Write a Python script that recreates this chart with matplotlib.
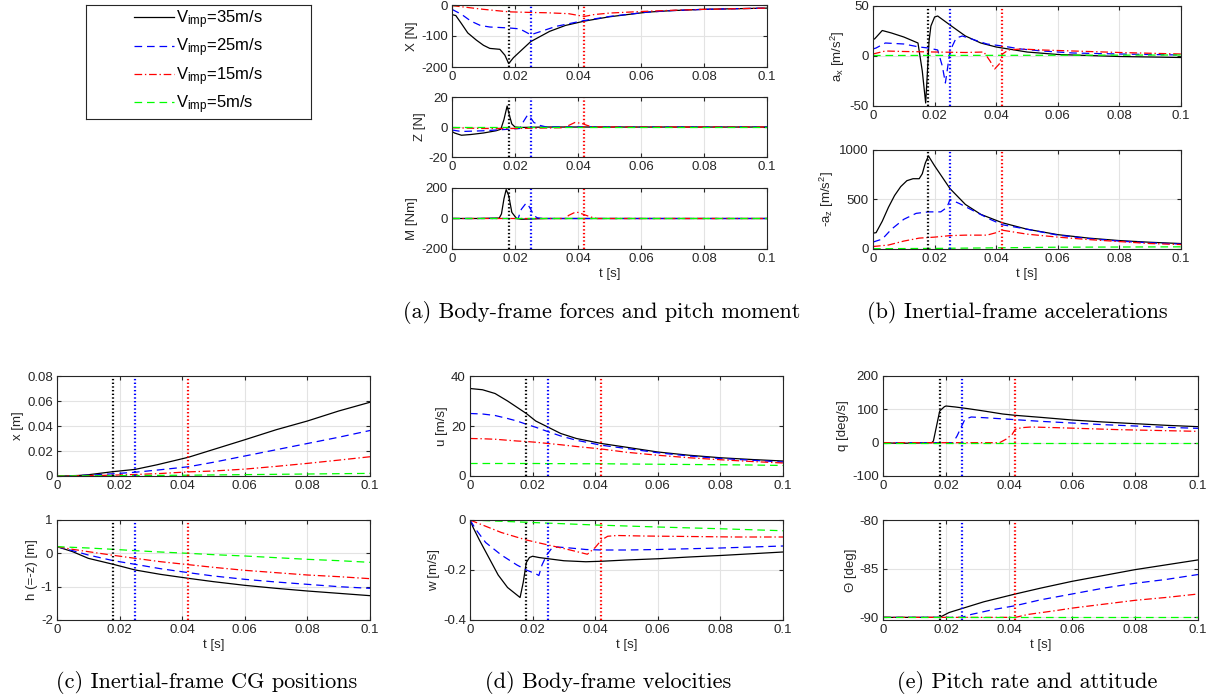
import matplotlib
matplotlib.use('Agg')
import matplotlib.pyplot as plt

plt.rcParams['font.family'] = ['Liberation Sans', 'DejaVu Sans']
plt.rcParams['axes.unicode_minus'] = False
plt.rcParams['mathtext.fontset'] = 'custom'
plt.rcParams['mathtext.rm'] = 'Liberation Sans'
plt.rcParams['mathtext.it'] = 'Liberation Sans:italic'
plt.rcParams['lines.scale_dashes'] = False

W, H = 1210, 700

# impact speeds and touchdown instants
speeds = ['35', '25', '15', '5']
impact_t = [0.018, 0.025, 0.042]

# ---- (a) body-frame forces and pitch moment ----
X_t35 = [0, 0.0012, 0.003, 0.005, 0.0077, 0.010, 0.012, 0.0152, 0.0168, 0.018, 0.0195, 0.0215, 0.025,
         0.031, 0.036, 0.042, 0.05, 0.062, 0.07, 0.08, 0.09, 0.1]
X_35 = [-31, -34, -60, -90, -113, -130, -140, -143, -162, -189, -170, -151, -118,
        -85, -66, -52, -38, -23, -18, -14, -12, -10]
X_t25 = [0, 0.003, 0.006, 0.009, 0.012, 0.018, 0.0215, 0.023, 0.025, 0.028, 0.033, 0.042, 0.05,
         0.062, 0.07, 0.08, 0.09, 0.1]
X_25 = [-14, -30, -52, -66, -71, -74, -77, -85, -96, -86, -69, -50, -37, -23, -18, -14, -12, -10]
X_t15 = [0, 0.005, 0.01, 0.018, 0.025, 0.03, 0.037, 0.042, 0.045, 0.05, 0.06, 0.07, 0.08, 0.09, 0.1]
X_15 = [-2, -8, -14, -22, -24, -25, -28, -37, -31, -26, -21, -17, -14, -12, -10]
X_t5 = [0, 0.05, 0.1]
X_5 = [-1.5, -1, -1]

Z_t35 = [0, 0.0008, 0.003, 0.006, 0.01, 0.014, 0.0155, 0.0165, 0.0175, 0.0182, 0.019, 0.02, 0.022, 0.03, 0.1]
Z_35 = [-3, -4, -5.5, -5, -4, -2.5, -1.5, 5, 14, 8, 2, 0, -0.3, 0, 0]
Z_t25 = [0, 0.003, 0.01, 0.018, 0.0215, 0.0225, 0.024, 0.025, 0.026, 0.028, 0.03, 0.1]
Z_25 = [-2, -3, -2.5, -1.5, -1, 3, 8, 6, 3, 1, 0, 0]
Z_t15 = [0, 0.01, 0.02, 0.035, 0.037, 0.039, 0.041, 0.043, 0.045, 0.1]
Z_15 = [-0.5, -1, -1, -0.5, 1, 3, 2.5, 1, 0, 0]
Z_t5 = [0, 0.05, 0.1]
Z_5 = [0, 0, 0]

M_t35 = [0, 0.008, 0.012, 0.015, 0.0157, 0.0165, 0.0172, 0.018, 0.019, 0.0205, 0.022, 0.03, 0.1]
M_35 = [0, 0, 2, 3, 30, 130, 190, 150, 40, 0, -5, 0, 0]
M_t25 = [0, 0.021, 0.022, 0.0235, 0.024, 0.025, 0.026, 0.027, 0.029, 0.1]
M_25 = [0, 0, 60, 100, 95, 60, 20, 5, 0, 0]
M_t15 = [0, 0.036, 0.037, 0.039, 0.040, 0.042, 0.044, 0.046, 0.1]
M_15 = [0, 0, 20, 40, 40, 25, 10, 0, 0]
M_t5 = [0, 0.05, 0.1]
M_5 = [0, 0, 0]

# ---- (b) inertial-frame accelerations ----
ax_t35 = [0, 0.0005, 0.003, 0.006, 0.01, 0.0146, 0.016, 0.0171, 0.0176, 0.0182, 0.0188, 0.02, 0.021,
          0.025, 0.03, 0.035, 0.04, 0.05, 0.06, 0.07, 0.08, 0.09, 0.1]
ax_35 = [17, 17, 25.5, 23, 19, 13, -15, -47, -20, 15, 30, 39, 40, 31, 20, 13, 9, 4, 1.5, 0.5, -0.5, -1, -1.5]
ax_t25 = [0, 0.001, 0.004, 0.01, 0.015, 0.018, 0.021, 0.0225, 0.0235, 0.0243, 0.025, 0.027, 0.029,
          0.033, 0.037, 0.042, 0.048, 0.055, 0.065, 0.08, 0.1]
ax_25 = [7, 8, 13, 12, 9, 8, 6, -10, -27, -10, 5, 18, 20, 16, 12, 10, 7, 5, 3, 2, 1]
ax_t15 = [0, 0.004, 0.01, 0.02, 0.03, 0.036, 0.038, 0.0395, 0.041, 0.042, 0.044, 0.048, 0.055, 0.065, 0.08, 0.1]
ax_15 = [2, 5, 4.5, 4, 3.5, 4, -5, -13, -8, 2, 6, 7, 6, 5, 3.5, 2]
ax_t5 = [0, 0.05, 0.1]
ax_5 = [0.5, 0.7, 1.0]

az_t35 = [0, 0.001, 0.003, 0.005, 0.007, 0.009, 0.011, 0.013, 0.015, 0.016, 0.017, 0.018, 0.02, 0.025,
          0.03, 0.035, 0.042, 0.05, 0.06, 0.07, 0.08, 0.09, 0.1]
az_35 = [160, 165, 280, 420, 540, 630, 690, 710, 710, 760, 870, 940, 840, 610,
         450, 350, 265, 200, 145, 110, 85, 68, 55]
az_t25 = [0, 0.003, 0.006, 0.01, 0.014, 0.018, 0.022, 0.024, 0.025, 0.028, 0.033, 0.038, 0.042,
          0.05, 0.06, 0.07, 0.08, 0.09, 0.1]
az_25 = [70, 100, 200, 300, 360, 375, 375, 420, 500, 460, 380, 300, 245, 200, 140, 105, 80, 62, 50]
az_t15 = [0, 0.005, 0.01, 0.015, 0.02, 0.025, 0.03, 0.037, 0.04, 0.042, 0.045, 0.05, 0.06, 0.07, 0.08, 0.09, 0.1]
az_15 = [25, 40, 80, 110, 120, 135, 140, 140, 165, 190, 175, 150, 120, 95, 75, 55, 45]
az_t5 = [0, 0.02, 0.04, 0.06, 0.08, 0.1]
az_5 = [3, 6, 12, 18, 20, 22]

# ---- (c) inertial-frame CG positions ----
x_t35 = [0, 0.005, 0.01, 0.018, 0.025, 0.032, 0.042, 0.051, 0.06, 0.07, 0.08, 0.09, 0.1]
x_35 = [0, 0.0001, 0.001, 0.0035, 0.0053, 0.009, 0.015, 0.022, 0.029, 0.037, 0.044, 0.052, 0.059]
x_t25 = [0, 0.01, 0.018, 0.025, 0.033, 0.042, 0.05, 0.06, 0.07, 0.08, 0.09, 0.1]
x_25 = [0, 0.0006, 0.0018, 0.003, 0.005, 0.0074, 0.011, 0.016, 0.021, 0.026, 0.031, 0.0364]
x_t15 = [0, 0.015, 0.025, 0.033, 0.042, 0.05, 0.06, 0.07, 0.08, 0.09, 0.1]
x_15 = [0, 0.0005, 0.0012, 0.002, 0.0033, 0.004, 0.0055, 0.0077, 0.0101, 0.0127, 0.0154]
x_t5 = [0, 0.02, 0.04, 0.06, 0.08, 0.1]
x_5 = [0, 0.0003, 0.0006, 0.0011, 0.0016, 0.0021]

h_t = [0, 0.005, 0.01, 0.018, 0.025, 0.033, 0.042, 0.05, 0.06, 0.07, 0.08, 0.09, 0.1]
h_35 = [0.2, 0.05, -0.15, -0.33, -0.5, -0.63, -0.75, -0.85, -0.96, -1.05, -1.13, -1.2, -1.27]
h_25 = [0.2, 0.08, -0.05, -0.22, -0.33, -0.46, -0.58, -0.68, -0.78, -0.86, -0.93, -1.0, -1.05]
h_15 = [0.2, 0.12, 0.05, -0.06, -0.15, -0.25, -0.34, -0.42, -0.51, -0.58, -0.65, -0.7, -0.76]
h_5 = [0.2, 0.18, 0.16, 0.12, 0.08, 0.04, 0.0, -0.04, -0.08, -0.13, -0.18, -0.22, -0.27]

# ---- (d) body-frame velocities ----
u_t = [0, 0.004, 0.008, 0.012, 0.015, 0.018, 0.021, 0.025, 0.029, 0.034, 0.042, 0.05, 0.06, 0.07, 0.08, 0.09, 0.1]
u_35 = [35, 34.5, 33, 30, 27.5, 25, 22, 19.5, 17, 15, 13, 11.5, 9.6, 8.3, 7.3, 6.6, 6]
u_25 = [25, 24.8, 24.2, 23, 22, 20.7, 19.5, 17.7, 16, 14.3, 12.3, 11, 9.3, 8, 7, 6.3, 5.6]
u_15 = [15, 14.9, 14.7, 14.3, 14, 13.8, 13.5, 13, 12.5, 11.8, 10.8, 9.5, 8.3, 7.3, 6.5, 5.8, 5.2]
u_5 = [5, 5, 5, 5, 5, 5, 5, 4.95, 4.95, 4.9, 4.9, 4.8, 4.7, 4.6, 4.5, 4.4, 4.2]

w_t35 = [0, 0.001, 0.003, 0.006, 0.009, 0.012, 0.015, 0.016, 0.017, 0.018, 0.019, 0.02, 0.022, 0.025,
         0.03, 0.037, 0.042, 0.05, 0.06, 0.07, 0.08, 0.09, 0.1]
w_35 = [0, -0.03, -0.08, -0.15, -0.22, -0.27, -0.3, -0.31, -0.25, -0.17, -0.15, -0.145, -0.15, -0.155,
        -0.163, -0.167, -0.165, -0.16, -0.155, -0.148, -0.142, -0.135, -0.128]
w_t25 = [0, 0.002, 0.005, 0.01, 0.015, 0.018, 0.021, 0.022, 0.023, 0.0245, 0.026, 0.028, 0.032, 0.037,
         0.042, 0.05, 0.06, 0.07, 0.08, 0.09, 0.1]
w_25 = [0, -0.04, -0.09, -0.14, -0.18, -0.2, -0.215, -0.222, -0.18, -0.14, -0.115, -0.108, -0.112, -0.118,
        -0.12, -0.12, -0.118, -0.115, -0.112, -0.108, -0.104]
w_t15 = [0, 0.004, 0.01, 0.018, 0.025, 0.032, 0.0375, 0.04, 0.042, 0.044, 0.047, 0.055, 0.07, 0.085, 0.1]
w_15 = [0, -0.02, -0.05, -0.08, -0.1, -0.12, -0.137, -0.11, -0.08, -0.065, -0.062, -0.064, -0.066, -0.068, -0.068]
w_t5 = [0, 0.01, 0.02, 0.04, 0.06, 0.08, 0.1]
w_5 = [0, -0.005, -0.01, -0.02, -0.028, -0.035, -0.043]

# ---- (e) pitch rate and attitude ----
q_t35 = [0, 0.005, 0.01, 0.0155, 0.016, 0.017, 0.018, 0.0195, 0.02, 0.023, 0.027, 0.032, 0.038, 0.042,
         0.05, 0.06, 0.07, 0.08, 0.09, 0.1]
q_35 = [0, -2, -1, 0, 5, 50, 95, 108, 110, 107, 102, 95, 86, 82, 76, 68, 62, 57, 52, 48]
q_t25 = [0, 0.0222, 0.0235, 0.025, 0.026, 0.028, 0.032, 0.037, 0.042, 0.05, 0.06, 0.07, 0.08, 0.09, 0.1]
q_25 = [0, 0, 20, 50, 70, 77, 75, 72, 69, 64, 59, 54, 50, 46, 43]
q_t15 = [0, 0.037, 0.039, 0.041, 0.042, 0.044, 0.047, 0.055, 0.065, 0.075, 0.085, 0.1]
q_15 = [0, 0, 10, 25, 40, 45, 47, 45, 42, 39, 37, 34]
q_t5 = [0, 0.05, 0.1]
q_5 = [0, 0, 0]

th_t35 = [0, 0.018, 0.021, 0.025, 0.032, 0.042, 0.05, 0.06, 0.07, 0.08, 0.09, 0.1]
th_35 = [-90, -90, -89.5, -89.1, -88.4, -87.6, -87.0, -86.3, -85.7, -85.1, -84.6, -84.1]
th_t25 = [0, 0.025, 0.028, 0.035, 0.042, 0.05, 0.06, 0.07, 0.08, 0.09, 0.1]
th_25 = [-90, -90, -89.7, -89.2, -88.8, -88.2, -87.6, -87.0, -86.5, -86.1, -85.6]
th_t15 = [0, 0.042, 0.046, 0.055, 0.06, 0.07, 0.08, 0.09, 0.1]
th_15 = [-90, -90, -89.7, -89.3, -89.05, -88.65, -88.25, -87.95, -87.6]
th_t5 = [0, 0.05, 0.1]
th_5 = [-90, -90, -90]

colors = ['k', 'b', 'r', (0, 1, 0)]
dashes = [None, (5.5, 3.5), (5.5, 2, 1, 2), (5.5, 3.5)]
vcolors = ['k', 'b', 'r']


def make_axes(left, top, right, bottom):
    return fig.add_axes([left / W, 1 - bottom / H, (right - left) / W, (bottom - top) / H])


def draw(ax, series, ylim, yticks, ylabel, xlabel=False):
    lines = []
    for (t, v), c, d in zip(series, colors, dashes):
        ln, = ax.plot(t, v, color=c, lw=0.9)
        if d is not None:
            ln.set_dashes(d)
        lines.append(ln)
    for ti, c in zip(impact_t, vcolors):
        ax.axvline(ti, color=c, ls=':', lw=1.6)
    ax.set_xlim(0, 0.1)
    ax.set_ylim(*ylim)
    ax.set_xticks([0, 0.02, 0.04, 0.06, 0.08, 0.1])
    ax.set_xticklabels(['0', '0.02', '0.04', '0.06', '0.08', '0.1'])
    ax.set_yticks(yticks)
    ax.set_ylabel(ylabel, fontsize=9.5, color='#262626', labelpad=2)
    if xlabel:
        ax.set_xlabel('t [s]', fontsize=9.5, color='#262626', labelpad=2)
    ax.grid(True, color='#e3e3e3', lw=0.8)
    ax.set_axisbelow(True)
    ax.tick_params(direction='in', length=3, labelsize=9.5, colors='#262626', top=True, right=True, pad=3)
    for s in ax.spines.values():
        s.set_color('#262626')
        s.set_linewidth(0.8)
    return lines


fig = plt.figure(figsize=(W / 100, H / 100), dpi=100)

# panel (a)
a1 = make_axes(452, 5, 767, 67)
leg_lines = draw(a1, [(X_t35, X_35), (X_t25, X_25), (X_t15, X_15), (X_t5, X_5)],
                 (-200, 0), [-200, -100, 0], 'X [N]')
a2 = make_axes(452, 97, 767, 157)
draw(a2, [(Z_t35, Z_35), (Z_t25, Z_25), (Z_t15, Z_15), (Z_t5, Z_5)],
     (-20, 20), [-20, 0, 20], 'Z [N]')
a3 = make_axes(452, 188, 767, 249)
draw(a3, [(M_t35, M_35), (M_t25, M_25), (M_t15, M_15), (M_t5, M_5)],
     (-200, 200), [-200, 0, 200], 'M [Nm]', xlabel=True)

# panel (b)
b1 = make_axes(873, 6, 1181, 106)
draw(b1, [(ax_t35, ax_35), (ax_t25, ax_25), (ax_t15, ax_15), (ax_t5, ax_5)],
     (-50, 50), [-50, 0, 50], r'a$_\mathregular{x}$ [m/s$^\mathregular{2}$]')
b2 = make_axes(873, 150, 1181, 249)
draw(b2, [(az_t35, az_35), (az_t25, az_25), (az_t15, az_15), (az_t5, az_5)],
     (0, 1000), [0, 500, 1000], r'-a$_\mathregular{z}$ [m/s$^\mathregular{2}$]', xlabel=True)

# panel (c)
c1 = make_axes(57, 376, 370, 476)
draw(c1, [(x_t35, x_35), (x_t25, x_25), (x_t15, x_15), (x_t5, x_5)],
     (0, 0.08), [0, 0.02, 0.04, 0.06, 0.08], 'x [m]')
c1.set_yticklabels(['0', '0.02', '0.04', '0.06', '0.08'])
c2 = make_axes(57, 520, 370, 620)
draw(c2, [(h_t, h_35), (h_t, h_25), (h_t, h_15), (h_t, h_5)],
     (-2, 1), [-2, -1, 0, 1], 'h (=-z) [m]', xlabel=True)

# panel (d)
d1 = make_axes(470, 376, 783, 476)
draw(d1, [(u_t, u_35), (u_t, u_25), (u_t, u_15), (u_t, u_5)],
     (0, 40), [0, 20, 40], 'u [m/s]')
d2 = make_axes(470, 520, 783, 620)
draw(d2, [(w_t35, w_35), (w_t25, w_25), (w_t15, w_15), (w_t5, w_5)],
     (-0.4, 0), [-0.4, -0.2, 0], 'w [m/s]', xlabel=True)
d2.set_yticklabels(['-0.4', '-0.2', '0'])

# panel (e)
e1 = make_axes(883, 376, 1198, 476)
draw(e1, [(q_t35, q_35), (q_t25, q_25), (q_t15, q_15), (q_t5, q_5)],
     (-100, 200), [-100, 0, 100, 200], 'q [deg/s]')
e2 = make_axes(883, 520, 1198, 620)
draw(e2, [(th_t35, th_35), (th_t25, th_25), (th_t15, th_15), (th_t5, th_5)],
     (-90.27, -80), [-90, -85, -80], 'Θ [deg]', xlabel=True)

# legend box
lg = make_axes(86, 5, 311, 119)
lg.set_xticks([])
lg.set_yticks([])
for s in lg.spines.values():
    s.set_color('#262626')
    s.set_linewidth(0.8)
labels = [r'V$_\mathregular{imp}$=%sm/s' % s for s in speeds]
lg.legend(leg_lines, labels, loc='center', frameon=False, fontsize=12,
          handlelength=2.4, handletextpad=0.15, labelspacing=0.35)

# sub-figure captions
captions = ['(a) Body-frame forces and pitch moment', '(b) Inertial-frame accelerations',
            '(c) Inertial-frame CG positions', '(d) Body-frame velocities', '(e) Pitch rate and attitude']
cap_xy = [(602, 313), (1017, 313), (207, 683), (608, 683), (1027, 683)]
for txt, (cx, cy) in zip(captions, cap_xy):
    fig.text(cx / W, 1 - cy / H, txt, ha='center', va='center', family='cmr10', fontsize=16)

fig.savefig('out.png', dpi=100)
